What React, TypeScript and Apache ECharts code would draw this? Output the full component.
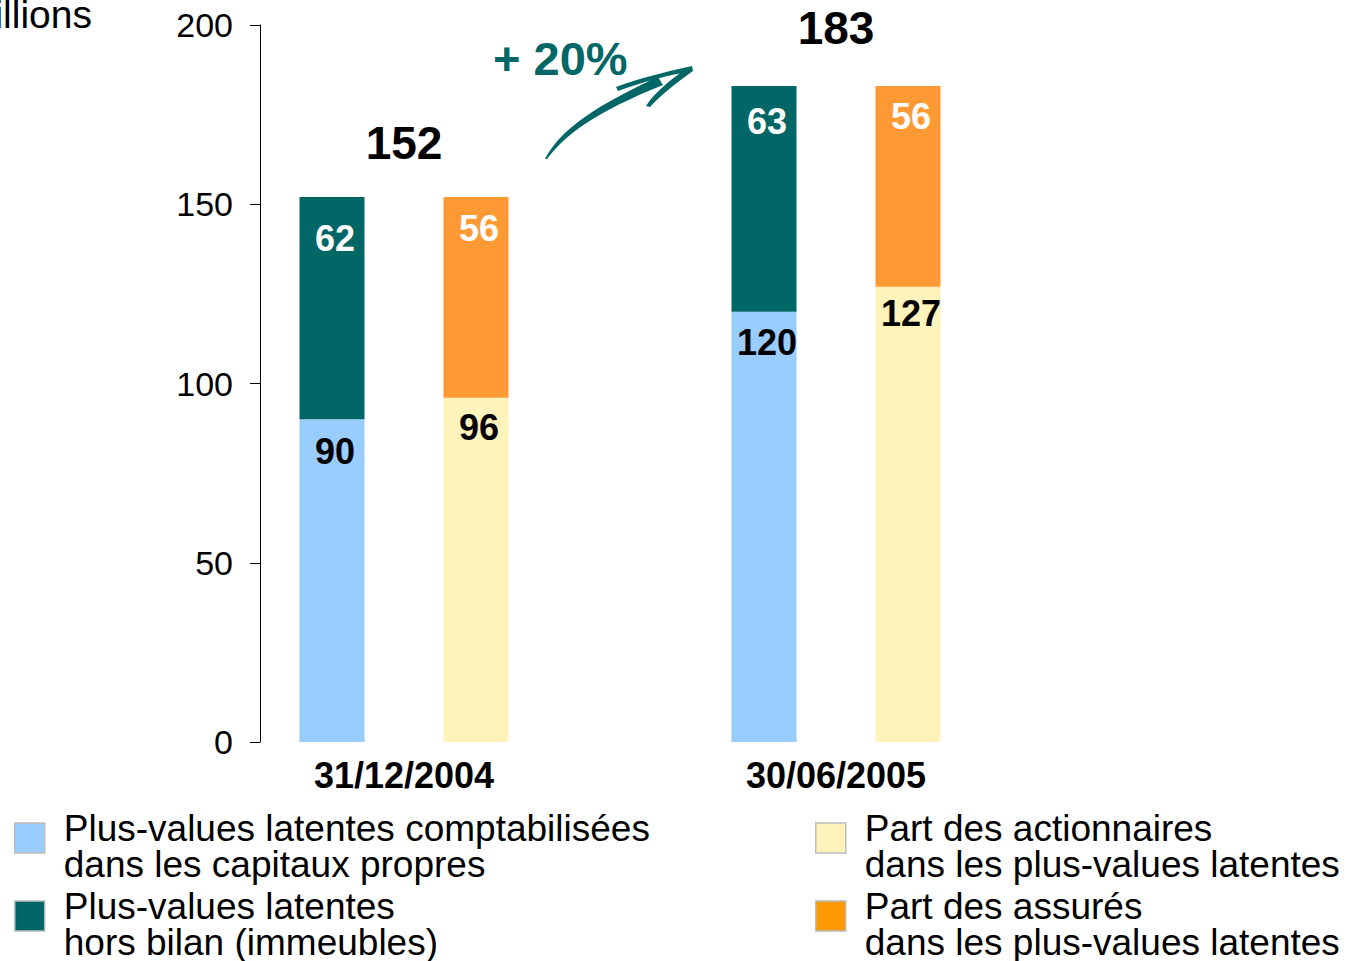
import React, { useEffect, useRef } from "react";
import * as echarts from "echarts";

const slots = ["2004-bilan", "2004-partage", "", "2005-bilan", "2005-partage"];
const dateLabels = ["31/12/2004", "30/06/2005"];
const datePositions = [1, 4];
const totals = [152, 183];

const nameBleu = "Plus-values latentes comptabilisées\ndans les capitaux propres";
const nameVert = "Plus-values latentes\nhors bilan (immeubles)";
const nameCreme = "Part des actionnaires\ndans les plus-values latentes";
const nameOrange = "Part des assurés\ndans les plus-values latentes";

const valuesBleu: (number | string)[] = [90, "-", "-", 120, "-"];
const valuesVert: (number | string)[] = [62, "-", "-", 63, "-"];
const valuesCreme: (number | string)[] = ["-", 96, "-", "-", 127];
const valuesOrange: (number | string)[] = ["-", 56, "-", "-", 56];

const yTicks = { min: 0, max: 200, interval: 50 };

const FONT = "'Liberation Sans', Arial, Helvetica, sans-serif";

const arrowPath =
  "M545,159 C558,134 586,110 658,77 L663,85 C596,112 567,133 547,159 Z " +
  "M616,87 C640,78 665,72 692,66 L693,71 C668,75 642,82 618,91 Z " +
  "M646,106 C655,92 670,80 689,67 L693,71 C676,83 661,95 650,107 Z";

let registered = false;

export default function App() {
  const ref = useRef<HTMLDivElement>(null);
  useEffect(() => {
    if (!ref.current) return;
    if (!registered) {
      echarts.graphic.registerShape("arrowcurve", echarts.graphic.extendPath(arrowPath, {}));
      registered = true;
    }
    const chart = echarts.init(ref.current, undefined, { renderer: "svg" });

    const barLabel = (color: string, distance: number) => ({
      show: true,
      position: "insideTop",
      distance,
      offset: [3, 0],
      color,
      fontSize: 36,
      fontWeight: "bold",
      fontFamily: FONT,
    });

    const withDistance = (vals: (number | string)[], overrides: Record<number, number>) =>
      vals.map((v, i) => (overrides[i] !== undefined ? { value: v, label: { distance: overrides[i] } } : v));

    const legendCommon = {
      orient: "vertical",
      top: 797,
      height: 200,
      padding: 0,
      itemWidth: 30,
      itemHeight: 30,
      itemGap: -8,
      icon: "rect",
      selectedMode: false,
      itemStyle: { borderColor: "#bdbdbd", borderWidth: 1.5 },
      formatter: (name: string) =>
        "{s| }\n" + name.split("\n").map((l) => "{a|" + l + "}").join("\n"),
      textStyle: {
        fontSize: 37,
        color: "#000",
        fontFamily: FONT,
        padding: [0, 0, 0, 14],
        rich: {
          s: { fontSize: 10, lineHeight: 17 },
          a: { fontSize: 37, lineHeight: 36, color: "#000", fontFamily: FONT },
        },
      },
    };

    const option: any = {
      animation: false,
      backgroundColor: "#ffffff",
      textStyle: { fontFamily: FONT },
      grid: { left: 260, right: 375, top: 25, bottom: 219, containLabel: false },
      xAxis: [
        {
          type: "category",
          data: slots,
          boundaryGap: true,
          axisLine: { show: false },
          axisTick: { show: false },
          axisLabel: { show: false },
          splitLine: { show: false },
        },
        {
          type: "value",
          min: 0,
          max: 5,
          interval: 1,
          position: "bottom",
          axisLine: { show: false },
          axisTick: { show: false },
          splitLine: { show: false },
          axisLabel: {
            margin: 15,
            fontSize: 36,
            fontWeight: "bold",
            color: "#000",
            fontFamily: FONT,
            formatter: (v: number) => {
              const i = datePositions.indexOf(v);
              return i >= 0 ? dateLabels[i] : "";
            },
          },
        },
      ],
      yAxis: {
        type: "value",
        min: yTicks.min,
        max: yTicks.max,
        interval: yTicks.interval,
        axisLine: { show: true, lineStyle: { color: "#000", width: 1 } },
        axisTick: { show: true, length: 10, lineStyle: { color: "#000", width: 1 } },
        axisLabel: { margin: 27, fontSize: 34, color: "#000", fontFamily: FONT },
        splitLine: { show: false },
      },
      legend: [
        { ...legendCommon, left: 14, data: [nameBleu, nameVert] },
        {
          ...legendCommon,
          left: 815,
          data: [nameCreme, { name: nameOrange, itemStyle: { color: "#FF9900" } }],
        },
      ],
      series: [
        {
          name: nameBleu,
          type: "bar",
          stack: "total",
          barWidth: 65,
          itemStyle: { color: "#99CCFF" },
          label: barLabel("#000", 14),
          data: withDistance(valuesBleu, { 3: 13 }),
        },
        {
          name: nameVert,
          type: "bar",
          stack: "total",
          barWidth: 65,
          itemStyle: { color: "#006666" },
          label: barLabel("#fff", 14),
          data: withDistance(valuesVert, { 0: 23, 3: 18 }),
        },
        {
          name: nameCreme,
          type: "bar",
          stack: "total",
          barWidth: 65,
          itemStyle: { color: "#FFF2BB" },
          label: barLabel("#000", 12),
          data: withDistance(valuesCreme, { 4: 9 }),
        },
        {
          name: nameOrange,
          type: "bar",
          stack: "total",
          barWidth: 65,
          itemStyle: { color: "#FF9933" },
          label: barLabel("#fff", 13),
          data: valuesOrange,
        },
        {
          name: "Total",
          type: "scatter",
          xAxisIndex: 1,
          yAxisIndex: 0,
          symbolSize: 0,
          silent: true,
          itemStyle: { opacity: 1 },
          label: {
            show: true,
            position: "top",
            color: "#000",
            opacity: 1,
            fontSize: 46,
            fontWeight: "bold",
            fontFamily: FONT,
            formatter: (p: any) => String(p.value[1]),
          },
          data: [
            { value: [datePositions[0], totals[0]], label: { distance: 31 } },
            { value: [datePositions[1], totals[1]], label: { distance: 35 } },
          ],
        },
      ],
      graphic: [
        {
          type: "text",
          x: 92,
          y: 34,
          style: {
            text: "millions",
            fontSize: 39,
            fill: "#000",
            fontFamily: FONT,
            align: "right",
            verticalAlign: "bottom",
          },
        },
        {
          type: "text",
          left: 493,
          top: 35,
          style: {
            text: "+ 20%",
            fontSize: 47,
            fontWeight: "bold",
            fill: "#006666",
            fontFamily: FONT,
          },
        },
        {
          type: "arrowcurve",
          x: 0,
          y: 0,
          style: { fill: "#006666" },
        },
      ],
    };
    chart.setOption(option);
    return () => chart.dispose();
  }, []);
  return (
    <div
      ref={ref}
      style={{ position: "fixed", left: 0, top: 0, width: 1355, height: 961 }}
    />
  );
}
